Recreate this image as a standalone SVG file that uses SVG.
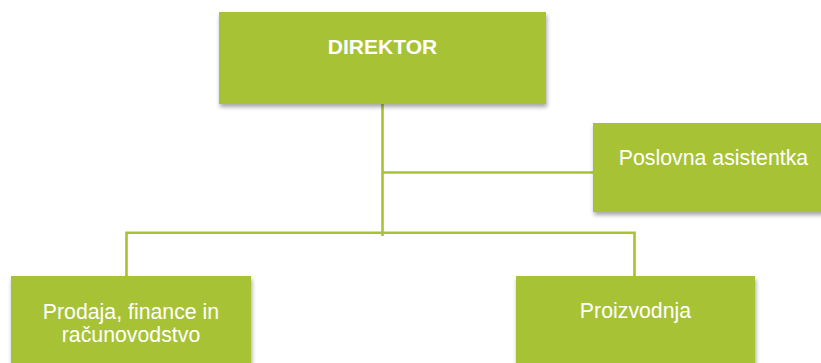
<svg xmlns="http://www.w3.org/2000/svg" width="821" height="363" viewBox="0 0 821 363">
<style>
.box{fill:#A7C334;filter:url(#sh);}
.conn{stroke:#A7C334;stroke-width:2.6;fill:none;}
.t{font-family:"Liberation Sans",Arial,sans-serif;font-size:21.3px;fill:#ffffff;text-anchor:middle;}
.b{font-weight:bold;font-size:21px;}
</style>
<defs>
<filter id="sh" x="-10%" y="-10%" width="130%" height="140%">
<feDropShadow dx="1" dy="3" stdDeviation="2" flood-color="#000000" flood-opacity="0.35"/>
</filter>
</defs>
<rect width="821" height="363" fill="#ffffff"/>
<g id="connectors">
<line class="conn" x1="382.5" y1="104" x2="382.5" y2="236"/>
<line class="conn" x1="382.5" y1="172.5" x2="594" y2="172.5"/>
<polyline class="conn" points="126.5,277 126.5,232.7 634.5,232.7 634.5,277"/>
</g>
<g id="node-direktor">
<rect class="box" x="219" y="12" width="327" height="92"/>
<text class="t b" x="382.5" y="54">DIREKTOR</text>
</g>
<g id="node-asistentka">
<rect class="box" x="593" y="123" width="240" height="89"/>
<text class="t" x="713.5" y="165">Poslovna asistentka</text>
</g>
<g id="node-prodaja">
<rect class="box" x="11" y="276" width="240" height="100"/>
<text class="t" x="131" y="319">Prodaja, finance in</text>
<text class="t" x="131" y="342">računovodstvo</text>
</g>
<g id="node-proizvodnja">
<rect class="box" x="516" y="276" width="239" height="100"/>
<text class="t" x="635.5" y="318">Proizvodnja</text>
</g>
</svg>
